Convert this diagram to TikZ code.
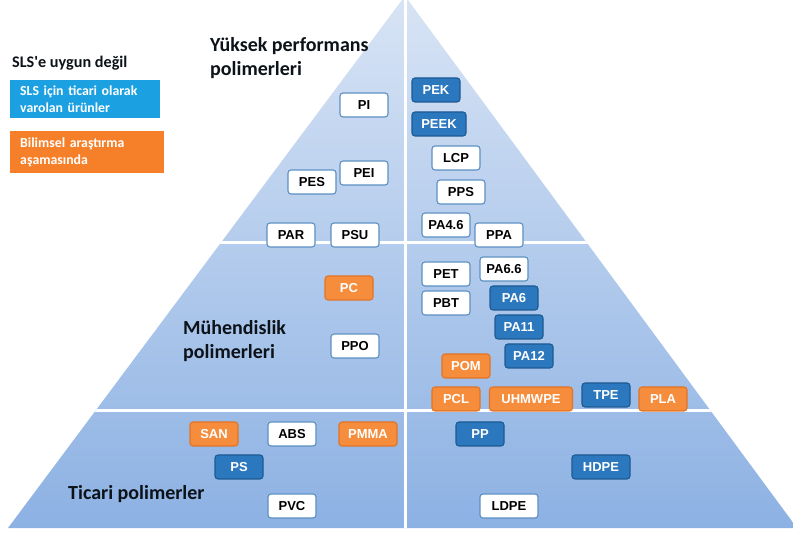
\documentclass[tikz,border=0pt]{standalone}
\usepackage{fontspec}
\setmainfont{Liberation Sans}
\newfontfamily\headfont{Carlito}
\definecolor{pyrtop}{HTML}{D8E4F5}
\definecolor{pyrbot}{HTML}{8CB1E3}
\definecolor{wline}{HTML}{5C8FC2}
\definecolor{bfill}{HTML}{2C78BE}
\definecolor{bline}{HTML}{1C5A92}
\definecolor{ofill}{HTML}{F68D3D}
\definecolor{oline}{HTML}{E27427}
\definecolor{legblue}{HTML}{1BA1E2}
\definecolor{legorange}{HTML}{F6802A}
\definecolor{headtext}{HTML}{0C1218}
\tikzset{
  polybox/.style={rounded corners=3pt, line width=1.1pt, minimum width=48pt,
    minimum height=24pt, inner sep=2pt, font=\fontsize{13}{15}\selectfont\bfseries},
  wbox/.style={polybox, fill=white, draw=wline, text=black},
  bbox/.style={polybox, fill=bfill, draw=bline, text=white},
  obox/.style={polybox, fill=ofill, draw=oline, text=white},
  heading/.style={font=\headfont\fontsize{20}{24.5}\selectfont\bfseries, text=headtext,
    align=left, inner sep=0pt, anchor=north west},
  legbox/.style={anchor=north west, inner xsep=10pt, inner ysep=0pt, align=left,
    text=white, font=\headfont\fontsize{13.8}{16.5}\selectfont\bfseries}
}
\begin{document}
\begin{tikzpicture}[x=1pt,y=-1pt]
\useasboundingbox (0,0) rectangle (793,534);
\fill[white] (0,0) rectangle (793,534);

% pyramid body with the three tiers and the middle split
\coordinate (apex) at (405,-4);
\coordinate (bl) at (8,528);
\coordinate (br) at (797,528);
\begin{scope}
  \clip (apex) -- (bl) -- (br) -- cycle;
  \shade[top color=pyrtop, bottom color=pyrbot] (0,-4) rectangle (800,528);
  \draw[white, line width=3pt] (405,-10) -- (405,540);
  \draw[white, line width=3pt] (0,243) -- (800,243);
  \draw[white, line width=3pt] (0,411) -- (800,411);
\end{scope}

% legend
\node[anchor=base west, inner sep=0pt, text=headtext,
      font=\headfont\fontsize{16.2}{19}\selectfont\bfseries] (legtitle) at (12,68) {SLS'e uygun değil};
\node[legbox, fill=legblue, minimum width=150pt, minimum height=38pt, text width=130pt] (legb) at (10,80)
  {SLS için ticari olarak\\varolan ürünler};
\node[legbox, fill=legorange, minimum width=154pt, minimum height=42pt, text width=134pt] (lego) at (10,131)
  {Bilimsel araştırma\\aşamasında};

% tier headings
\node[heading] (hhigh) at (210,37) {Yüksek performans\\polimerleri};
\node[heading] (heng) at (183,320) {Mühendislik\\polimerleri};
\node[heading] (hcom) at (68,485) {Ticari polimerler};

% high performance polymers
\node[wbox] (PI)   at (364,105) {PI};
\node[wbox] (PES)  at (312,182) {PES};
\node[wbox] (PEI)  at (364,173) {PEI};
\node[wbox] (PAR)  at (291,235) {PAR};
\node[wbox] (PSU)  at (355,235) {PSU};
\node[bbox] (PEK)  at (436,90)  {PEK};
\node[bbox, minimum width=54pt] (PEEK) at (439,124) {PEEK};
\node[wbox] (LCP)  at (456,158) {LCP};
\node[wbox] (PPS)  at (461,192) {PPS};
\node[wbox] (PA46) at (446,225) {PA4.6};
\node[wbox] (PPA)  at (499,235) {PPA};

% engineering polymers
\node[obox] (PC)   at (349,288) {PC};
\node[wbox] (PPO)  at (355,346) {PPO};
\node[wbox] (PET)  at (446,274) {PET};
\node[wbox] (PA66) at (504,269) {PA6.6};
\node[wbox] (PBT)  at (446,303) {PBT};
\node[bbox] (PA6)  at (514,298) {PA6};
\node[bbox] (PA11) at (519,327) {PA11};
\node[bbox] (PA12) at (529,356) {PA12};
\node[obox] (POM)  at (466,366) {POM};
\node[obox] (PCL)  at (456,399) {PCL};
\node[obox, minimum width=83pt] (UHMWPE) at (531,399) {UHMWPE};
\node[bbox] (TPE)  at (606,395) {TPE};
\node[obox] (PLA)  at (663,399) {PLA};

% commodity polymers
\node[obox] (SAN)  at (214,434) {SAN};
\node[wbox] (ABS)  at (292,434) {ABS};
\node[obox, minimum width=58pt] (PMMA) at (368,434) {PMMA};
\node[bbox] (PS)   at (239,467) {PS};
\node[wbox] (PVC)  at (292,506) {PVC};
\node[bbox] (PP)   at (480,434) {PP};
\node[bbox, minimum width=58pt] (HDPE) at (601,467) {HDPE};
\node[wbox, minimum width=58pt] (LDPE) at (509,506) {LDPE};
\end{tikzpicture}
\end{document}
